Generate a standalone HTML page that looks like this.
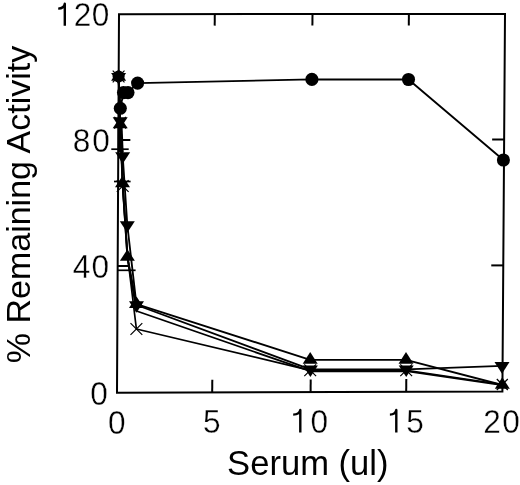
<!DOCTYPE html><html><head><meta charset="utf-8"><style>html,body{margin:0;padding:0;background:#fff;width:520px;height:485px;overflow:hidden}svg{display:block;will-change:transform}text{font-family:"Liberation Sans",sans-serif;fill:#000}</style></head><body>
<svg width="520" height="485" viewBox="0 0 520 485">
<path d="M119.0,14.2 L505.0,13.9 L502.4,391.6 L117.0,392.8 Z" fill="none" stroke="#000" stroke-width="2.0" stroke-linejoin="miter"/>
<line x1="212.2" y1="392.50" x2="212.29999999999998" y2="379.70" stroke="#000" stroke-width="2"/>
<line x1="214.8" y1="14.13" x2="214.70000000000002" y2="25.63" stroke="#000" stroke-width="2"/>
<line x1="310.6" y1="392.20" x2="310.70000000000005" y2="379.40" stroke="#000" stroke-width="2"/>
<line x1="312.5" y1="14.05" x2="312.4" y2="25.55" stroke="#000" stroke-width="2"/>
<line x1="406.2" y1="391.90" x2="406.3" y2="379.10" stroke="#000" stroke-width="2"/>
<line x1="408.9" y1="13.97" x2="408.79999999999995" y2="25.47" stroke="#000" stroke-width="2"/>
<line x1="118.34" y1="140.0" x2="130.34" y2="140.0" stroke="#000" stroke-width="2"/>
<line x1="504.14" y1="139.5" x2="492.14" y2="139.5" stroke="#000" stroke-width="2"/>
<line x1="117.67" y1="266.0" x2="129.67" y2="266.0" stroke="#000" stroke-width="2"/>
<line x1="503.27" y1="265.4" x2="491.27" y2="265.4" stroke="#000" stroke-width="2"/>
<line x1="111.3" y1="149.2" x2="128.7" y2="149.2" stroke="#000" stroke-width="1.7"/>
<line x1="114" y1="181.5" x2="130.6" y2="181.5" stroke="#000" stroke-width="1.7"/>
<line x1="118" y1="270.3" x2="135.6" y2="270.3" stroke="#000" stroke-width="1.7"/>
<polyline points="118.60,76.50 120.30,108.30 123.50,92.60 128.00,92.60 137.60,83.10 311.90,79.40 408.50,79.50 503.40,160.00" fill="none" stroke="#000" stroke-width="1.85" stroke-linejoin="round" stroke-linecap="round"/>
<polyline points="118.60,76.80 120.20,121.00 122.70,156.00 127.30,225.00 136.50,305.00 310.40,369.30 406.20,369.30 502.00,365.90" fill="none" stroke="#000" stroke-width="1.85" stroke-linejoin="round" stroke-linecap="round"/>
<polyline points="118.60,76.80 120.20,124.40 122.50,183.50 127.40,257.00 136.50,304.20 310.20,359.80 406.00,359.80 502.30,385.00" fill="none" stroke="#000" stroke-width="1.85" stroke-linejoin="round" stroke-linecap="round"/>
<polyline points="118.60,76.50 120.20,122.70 122.70,184.00 127.40,257.00 136.50,311.00 310.30,371.20 406.20,371.20 502.30,385.20" fill="none" stroke="#000" stroke-width="1.85" stroke-linejoin="round" stroke-linecap="round"/>
<polyline points="118.60,76.50 120.20,122.70 122.70,186.00 127.80,258.00 136.40,329.00 310.20,370.30 406.20,370.30 502.30,384.50" fill="none" stroke="#000" stroke-width="1.7" stroke-linejoin="round" stroke-linecap="round"/>
<path d="M117.6,127 L122.6,127 L123.6,152 L117.6,152 Z" fill="#000"/>
<g fill="#000">
<circle cx="118.60" cy="76.60" r="6.0"/>
<circle cx="120.30" cy="108.30" r="6.55"/>
<circle cx="123.50" cy="92.60" r="6.55"/>
<circle cx="128.00" cy="92.60" r="6.55"/>
<circle cx="137.60" cy="83.10" r="6.55"/>
<circle cx="311.90" cy="79.40" r="6.55"/>
<circle cx="408.50" cy="79.50" r="6.55"/>
<circle cx="503.40" cy="160.00" r="6.55"/>
<path d="M111.10,72.93 L126.10,72.93 L118.60,84.53 Z"/>
<path d="M112.70,117.13 L127.70,117.13 L120.20,128.73 Z"/>
<path d="M115.20,152.13 L130.20,152.13 L122.70,163.73 Z"/>
<path d="M119.80,221.13 L134.80,221.13 L127.30,232.73 Z"/>
<path d="M129.00,301.13 L144.00,301.13 L136.50,312.73 Z"/>
<path d="M302.90,365.43 L317.90,365.43 L310.40,377.03 Z"/>
<path d="M398.70,365.43 L413.70,365.43 L406.20,377.03 Z"/>
<path d="M494.50,362.03 L509.50,362.03 L502.00,373.63 Z"/>
<path d="M118.60,69.07 L126.10,80.67 L111.10,80.67 Z"/>
<path d="M120.20,116.67 L127.70,128.27 L112.70,128.27 Z"/>
<path d="M122.50,175.77 L130.00,187.37 L115.00,187.37 Z"/>
<path d="M127.40,249.27 L134.90,260.87 L119.90,260.87 Z"/>
<path d="M136.50,296.47 L144.00,308.07 L129.00,308.07 Z"/>
<path d="M310.20,352.07 L317.70,363.67 L302.70,363.67 Z"/>
<path d="M406.00,352.07 L413.50,363.67 L398.50,363.67 Z"/>
<path d="M502.30,377.27 L509.80,388.87 L494.80,388.87 Z"/>
</g>
<path d="M112.70,70.60 L124.50,82.40 M112.70,82.40 L124.50,70.60" fill="none" stroke="#000" stroke-width="1.2"/>
<path d="M114.30,116.80 L126.10,128.60 M114.30,128.60 L126.10,116.80" fill="none" stroke="#000" stroke-width="1.2"/>
<path d="M116.80,180.10 L128.60,191.90 M116.80,191.90 L128.60,180.10" fill="none" stroke="#000" stroke-width="1.2"/>
<path d="M130.50,323.10 L142.30,334.90 M130.50,334.90 L142.30,323.10" fill="none" stroke="#000" stroke-width="1.2"/>
<path d="M304.30,364.40 L316.10,376.20 M304.30,376.20 L316.10,364.40" fill="none" stroke="#000" stroke-width="1.2"/>
<path d="M400.30,364.40 L412.10,376.20 M400.30,376.20 L412.10,364.40" fill="none" stroke="#000" stroke-width="1.2"/>
<path d="M496.80,379.00 L507.80,390.00 M496.80,390.00 L507.80,379.00" fill="none" stroke="#000" stroke-width="1.2"/>
<path d="M58.20,8.60 C61.40,8.50 64.20,7.40 64.80,3.70 L64.80,25.80" fill="none" stroke="#000" stroke-width="2.4" stroke-linecap="butt" stroke-linejoin="round"/>
<text transform="translate(82.56,25.80) scale(0.93,1.0)" font-size="34" text-anchor="middle" stroke="#fff" stroke-width="0.35">2</text>
<text transform="translate(100.47,25.90) scale(0.93,1.0)" font-size="34" text-anchor="middle" stroke="#fff" stroke-width="0.35">0</text>
<text transform="translate(81.56,152.40) scale(0.93,1.0)" font-size="34" text-anchor="middle" stroke="#fff" stroke-width="0.35">8</text>
<text transform="translate(100.97,152.40) scale(0.93,1.0)" font-size="34" text-anchor="middle" stroke="#fff" stroke-width="0.35">0</text>
<text transform="translate(81.63,278.30) scale(0.93,1.0)" font-size="34" text-anchor="middle" stroke="#fff" stroke-width="0.35">4</text>
<text transform="translate(100.37,278.30) scale(0.93,1.0)" font-size="34" text-anchor="middle" stroke="#fff" stroke-width="0.35">0</text>
<text transform="translate(98.97,404.50) scale(0.93,1.0)" font-size="34" text-anchor="middle" stroke="#fff" stroke-width="0.35">0</text>
<text transform="translate(116.67,433.50) scale(0.93,1.0)" font-size="34" text-anchor="middle" stroke="#fff" stroke-width="0.35">0</text>
<text transform="translate(211.77,433.40) scale(0.93,1.0)" font-size="34" text-anchor="middle" stroke="#fff" stroke-width="0.35">5</text>
<path d="M293.20,414.60 C296.40,414.50 299.70,413.40 300.30,409.90 L300.30,432.60" fill="none" stroke="#000" stroke-width="2.4" stroke-linecap="butt" stroke-linejoin="round"/>
<text transform="translate(319.36,432.80) scale(0.93,1.0)" font-size="34" text-anchor="middle" stroke="#fff" stroke-width="0.35">0</text>
<path d="M389.90,414.60 C393.10,414.50 395.70,413.40 396.30,409.90 L396.30,432.60" fill="none" stroke="#000" stroke-width="2.4" stroke-linecap="butt" stroke-linejoin="round"/>
<text transform="translate(414.96,432.80) scale(0.93,1.0)" font-size="34" text-anchor="middle" stroke="#fff" stroke-width="0.35">5</text>
<text transform="translate(491.96,432.60) scale(0.93,1.0)" font-size="34" text-anchor="middle" stroke="#fff" stroke-width="0.35">2</text>
<text transform="translate(510.96,432.80) scale(0.93,1.0)" font-size="34" text-anchor="middle" stroke="#fff" stroke-width="0.35">0</text>
<text x="307.8" y="475" font-size="34.6" text-anchor="middle">Serum (ul)</text>
<text transform="translate(30,204.5) rotate(-90)" x="0" y="0" font-size="34" text-anchor="middle">% Remaining Activity</text>
</svg></body></html>
